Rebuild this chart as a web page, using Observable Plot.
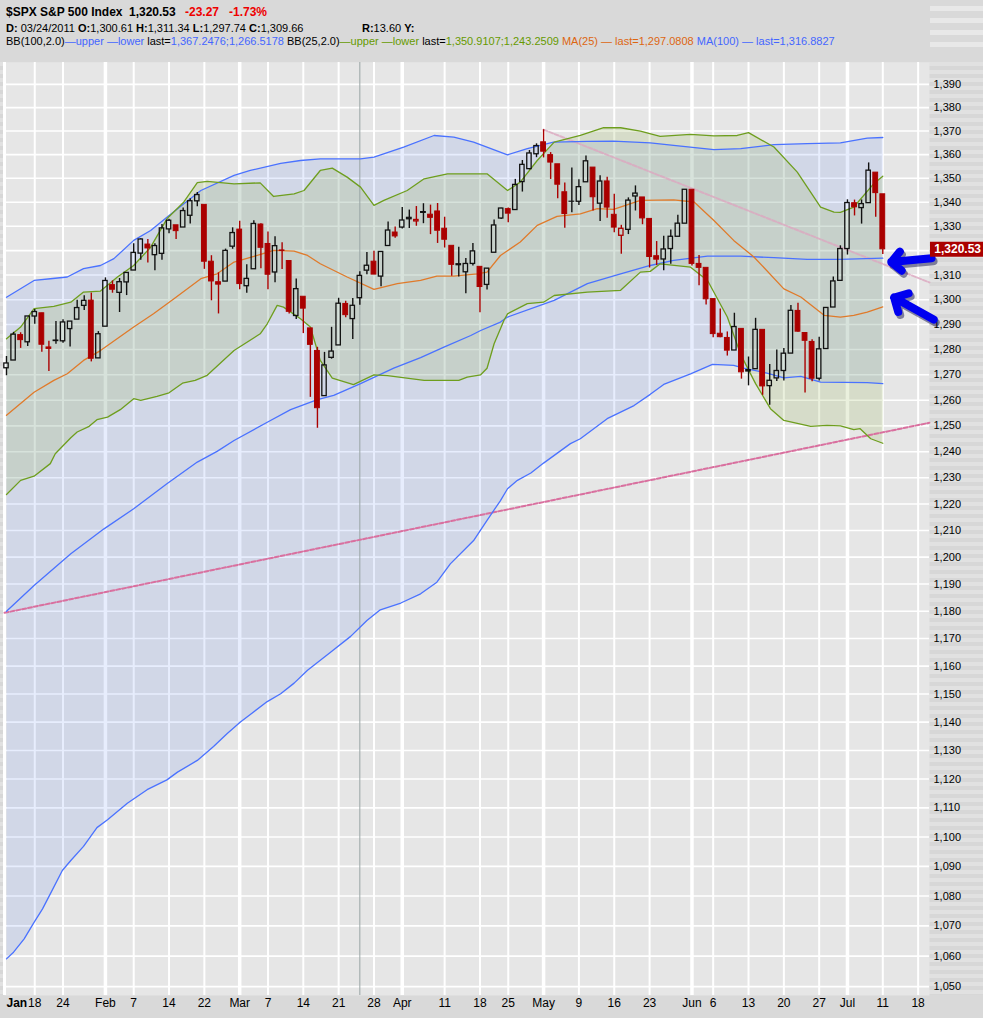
<!DOCTYPE html>
<html><head><meta charset="utf-8">
<script src="https://cdn.jsdelivr.net/npm/d3@7"></script>
<script src="https://cdn.jsdelivr.net/npm/@observablehq/plot@0.6"></script>
<style>
html,body{margin:0;padding:0;background:#d9d9d9;}
#wrap{position:relative;width:983px;height:1018px;overflow:hidden;background:#d9d9d9;font-family:"Liberation Sans",Arial,sans-serif;}
.t{position:absolute;font-size:12px;line-height:14px;white-space:nowrap;color:#000;}
.s{font-size:11px;}
#stripes{position:absolute;left:0;top:62px;width:983px;height:933px;background:repeating-linear-gradient(to bottom,#e1e1e1 0,#e1e1e1 4px,#d7d7d7 4px,#d7d7d7 8px);}
.bar{position:absolute;left:930px;width:53px;height:5px;background:#e8e8e8;}
#chart{position:absolute;left:0;top:52px;}
.blue{color:#4466ff}.green{color:#669900}.orange{color:#dd6611}.red{color:#ee0000}
</style></head>
<body><div id="wrap">
<div class="bar" style="top:6px"></div><div class="bar" style="top:18px"></div><div class="bar" style="top:30px"></div><div class="bar" style="top:42px"></div>
<div class="t" style="left:6px;top:5px"><b>$SPX S&amp;P 500 Index</b></div>
<div class="t" style="left:129px;top:5px"><b>1,320.53</b></div>
<div class="t red" style="left:185px;top:5px"><b>-23.27</b></div>
<div class="t red" style="left:229px;top:5px"><b>-1.73%</b></div>
<div class="t s" style="left:6px;top:21px"><b>D:</b> 03/24/2011 <b>O:</b>1,300.61 <b>H:</b>1,311.34 <b>L:</b>1,297.74 <b>C:</b>1,309.66</div>
<div class="t s" style="left:362px;top:21px"><b>R:</b>13.60 <b>Y:</b></div>
<div class="t s" style="left:6px;top:34px">BB(100,2.0)<span class="blue">—upper —lower</span> last=<span class="blue">1,367.2476;1,266.5178</span> BB(25,2.0)<span class="green">—upper —lower</span> last=<span class="green">1,350.9107;1,243.2509</span> <span class="orange">MA(25) — last=1,297.0808</span> <span class="blue">MA(100) — last=1,316.8827</span></div>
<div id="stripes"></div>
<div id="chart"></div>
</div>
<script>
// trading days from 2011-01-11 (day 0) to 2011-07-11 (day 124)
const dates = ["2011-01-11","2011-01-12","2011-01-13","2011-01-14","2011-01-18","2011-01-19","2011-01-20","2011-01-21","2011-01-24","2011-01-25","2011-01-26","2011-01-27","2011-01-28","2011-01-31",
"2011-02-01","2011-02-02","2011-02-03","2011-02-04","2011-02-07","2011-02-08","2011-02-09","2011-02-10","2011-02-11","2011-02-14","2011-02-15","2011-02-16","2011-02-17","2011-02-18","2011-02-22","2011-02-23","2011-02-24","2011-02-25","2011-02-28",
"2011-03-01","2011-03-02","2011-03-03","2011-03-04","2011-03-07","2011-03-08","2011-03-09","2011-03-10","2011-03-11","2011-03-14","2011-03-15","2011-03-16","2011-03-17","2011-03-18","2011-03-21","2011-03-22","2011-03-23","2011-03-24","2011-03-25","2011-03-28","2011-03-29","2011-03-30","2011-03-31",
"2011-04-01","2011-04-04","2011-04-05","2011-04-06","2011-04-07","2011-04-08","2011-04-11","2011-04-12","2011-04-13","2011-04-14","2011-04-15","2011-04-18","2011-04-19","2011-04-20","2011-04-21","2011-04-25","2011-04-26","2011-04-27","2011-04-28","2011-04-29",
"2011-05-02","2011-05-03","2011-05-04","2011-05-05","2011-05-06","2011-05-09","2011-05-10","2011-05-11","2011-05-12","2011-05-13","2011-05-16","2011-05-17","2011-05-18","2011-05-19","2011-05-20","2011-05-23","2011-05-24","2011-05-25","2011-05-26","2011-05-27","2011-05-31",
"2011-06-01","2011-06-02","2011-06-03","2011-06-06","2011-06-07","2011-06-08","2011-06-09","2011-06-10","2011-06-13","2011-06-14","2011-06-15","2011-06-16","2011-06-17","2011-06-20","2011-06-21","2011-06-22","2011-06-23","2011-06-24","2011-06-27","2011-06-28","2011-06-29","2011-06-30",
"2011-07-01","2011-07-05","2011-07-06","2011-07-07","2011-07-08","2011-07-11"];

const open = [1272.58,1275.65,1285.78,1282.90,1293.22,1294.52,1280.85,1283.63,1283.29,1288.17,1291.97,1297.51,1299.63,1276.50,
1289.14,1305.91,1302.77,1307.01,1311.85,1318.76,1322.48,1318.13,1318.66,1328.73,1330.43,1329.51,1334.37,1340.38,1338.91,1315.44,1307.09,1307.34,1321.61,
1328.64,1305.47,1312.37,1330.73,1322.72,1311.05,1319.92,1315.72,1293.43,1301.19,1288.46,1279.46,1261.61,1276.71,1281.65,1298.29,1292.19,1300.61,1311.80,1315.45,1309.37,1321.89,1327.44,
1329.48,1333.56,1332.03,1335.94,1334.82,1336.16,1329.01,1321.96,1314.03,1311.13,1314.54,1313.35,1305.99,1319.12,1333.23,1337.14,1336.75,1348.43,1353.86,1360.14,
1365.21,1359.76,1355.90,1344.16,1340.24,1340.20,1348.34,1354.51,1339.39,1348.69,1334.77,1326.10,1328.54,1342.40,1342.00,1333.07,1317.70,1316.36,1320.64,1325.69,1331.10,
1345.20,1314.55,1312.94,1300.26,1286.31,1284.63,1279.63,1288.26,1271.31,1272.22,1287.87,1265.53,1268.58,1271.50,1278.40,1295.48,1286.60,1283.04,1268.44,1280.21,1296.85,1307.64,
1320.64,1339.59,1337.56,1339.62,1352.39,1343.31];
const high = [1277.25,1286.87,1286.70,1293.24,1296.06,1294.60,1283.35,1291.21,1291.93,1291.26,1299.74,1301.63,1302.67,1287.17,
1308.86,1307.61,1308.60,1311.00,1322.85,1324.87,1324.54,1322.78,1330.79,1332.96,1330.43,1337.61,1341.50,1344.07,1338.91,1317.91,1310.91,1320.61,1329.38,
1332.09,1314.19,1332.28,1331.08,1327.68,1325.74,1323.21,1315.72,1308.35,1301.19,1288.46,1280.91,1278.88,1288.88,1300.58,1299.35,1300.51,1311.34,1319.18,1319.74,1319.45,1331.74,1329.77,
1337.85,1336.74,1338.21,1339.38,1338.80,1339.46,1333.77,1321.96,1321.35,1316.79,1322.88,1313.35,1312.70,1332.66,1337.49,1337.55,1349.55,1357.49,1361.71,1364.56,
1370.58,1360.84,1355.90,1348.00,1354.36,1349.44,1359.44,1354.51,1351.05,1350.47,1343.33,1330.42,1341.82,1346.82,1342.00,1333.07,1323.72,1325.86,1328.51,1334.62,1345.20,
1345.20,1318.03,1312.94,1300.26,1296.22,1287.04,1294.54,1288.26,1277.04,1292.50,1287.87,1274.11,1279.82,1280.42,1297.62,1298.61,1286.60,1283.93,1284.91,1296.80,1309.21,1321.97,
1341.01,1340.89,1340.94,1356.48,1352.39,1343.31];
const low = [1269.62,1275.65,1280.47,1281.24,1290.16,1278.92,1271.26,1282.07,1282.47,1281.07,1291.97,1295.69,1275.10,1276.50,
1289.14,1302.62,1294.83,1301.67,1311.85,1316.03,1314.89,1311.74,1316.08,1326.90,1324.61,1329.51,1331.00,1338.12,1312.33,1299.55,1294.26,1307.34,1320.55,
1303.99,1302.58,1312.37,1312.59,1303.99,1306.86,1312.27,1294.21,1291.99,1286.37,1261.12,1249.05,1261.61,1276.18,1281.65,1292.70,1284.05,1297.74,1310.15,1310.19,1305.26,1321.89,1325.03,
1328.89,1329.10,1330.03,1331.09,1326.56,1322.94,1321.06,1309.51,1309.19,1302.42,1313.68,1294.70,1303.97,1319.12,1332.83,1331.47,1336.75,1344.25,1353.60,1358.69,
1358.59,1349.52,1341.50,1329.17,1335.58,1338.64,1348.34,1336.36,1332.03,1333.36,1327.32,1318.51,1326.59,1336.36,1330.67,1312.88,1313.87,1311.80,1314.41,1325.69,1331.10,
1313.71,1305.61,1297.90,1284.72,1284.74,1277.42,1279.63,1268.28,1265.64,1272.22,1261.90,1258.07,1267.40,1267.56,1278.40,1286.79,1262.87,1267.24,1267.53,1280.21,1296.85,1307.64,
1318.18,1334.30,1330.92,1339.62,1333.71,1318.40];
const close = [1274.48,1285.96,1283.76,1293.24,1295.02,1281.92,1280.26,1283.35,1290.84,1291.18,1296.63,1299.54,1276.34,1286.12,
1307.59,1304.03,1307.10,1310.87,1319.05,1324.57,1320.88,1321.87,1329.15,1332.32,1328.01,1336.32,1340.43,1343.01,1315.44,1307.40,1306.10,1319.88,1327.22,
1306.33,1308.44,1330.97,1321.15,1310.13,1321.82,1320.02,1295.11,1304.28,1296.39,1281.87,1256.88,1273.72,1279.21,1298.38,1293.77,1297.54,1309.66,1313.80,1310.19,1319.44,1328.26,1325.83,
1332.41,1332.87,1332.63,1335.54,1333.51,1328.17,1324.46,1314.16,1314.41,1314.52,1319.68,1305.14,1312.62,1330.36,1337.38,1335.25,1347.24,1355.66,1360.48,1363.61,
1361.22,1356.62,1347.32,1335.10,1340.20,1346.29,1357.16,1342.08,1348.65,1337.77,1329.47,1328.98,1340.68,1343.60,1333.27,1317.37,1316.28,1320.47,1325.69,1331.10,1345.20,
1314.55,1312.94,1300.16,1286.17,1284.94,1279.56,1289.00,1270.98,1271.83,1287.87,1265.42,1267.64,1271.50,1278.36,1295.52,1287.14,1283.50,1268.45,1280.10,1296.67,1307.41,1320.64,
1339.67,1337.88,1339.22,1353.22,1343.80,1320.53];
const prevCloseFirst = 1269.75;

// indicator readings: [trading day, value]
const bb100Upper = [[0,1301.0],[3.9,1307.8],[6.2,1308.5],[8.6,1309.2],[10.9,1312.6],[13.3,1313.9],[15.2,1316.7],[18.0,1324.2],[20.4,1328.3],[22.7,1333.8],[25.1,1339.4],[27.5,1344.9],[32.2,1351.2],[34.5,1353.3],[38.8,1356.3],[41.6,1357.5],[44.4,1358.2],[50.1,1358.2],[52.0,1358.9],[56.2,1363.2],[60.5,1368.1],[63.3,1367.4],[66.1,1365.3],[70.9,1359.9],[73.7,1362.5],[77.4,1365.3],[82.2,1365.6],[85.9,1365.7],[91.1,1365.0],[94.4,1363.9],[100.1,1362.1],[103.9,1362.5],[108.6,1364.2],[113.3,1364.6],[118.0,1365.0],[121.8,1367.0],[124,1367.25]];
const bb100Lower = [[0,1059.1],[1.0,1061.3],[2.5,1065.7],[3.9,1071.2],[5.1,1075.7],[6.2,1080.7],[7.9,1088.6],[9.1,1092.0],[10.9,1096.8],[12.8,1103.2],[14.3,1105.9],[17.1,1111.6],[19.9,1116.3],[22.7,1119.7],[24.2,1122.4],[27.0,1126.5],[29.3,1131.4],[31.2,1135.9],[33.1,1140.0],[34.5,1142.7],[36.9,1147.3],[38.8,1150.1],[40.7,1153.9],[42.6,1158.5],[45.9,1165.1],[48.7,1170.8],[51.0,1176.6],[52.9,1180.5],[55.8,1183.0],[58.6,1186.4],[60.9,1190.7],[62.8,1197.5],[66.1,1206.2],[68.0,1213.8],[69.9,1221.3],[70.9,1225.8],[72.3,1229.0],[74.2,1231.8],[76.0,1235.6],[79.8,1243.1],[81.2,1245.0],[85.0,1252.8],[88.8,1257.9],[91.1,1262.3],[93.0,1266.2],[96.8,1270.4],[99.9,1274.1],[102.9,1273.7],[104.3,1272.6],[107.6,1270.7],[110.0,1268.8],[112.4,1269.4],[115.2,1267.1],[121.8,1266.9],[124,1266.52]];
const ma100 = [[0,1180.0],[3.9,1189.5],[9.1,1201.3],[13.8,1210.6],[18.0,1218.2],[22.7,1227.7],[27.0,1236.0],[29.8,1240.1],[32.2,1244.3],[36.9,1251.4],[40.2,1256.3],[44.0,1260.2],[46.3,1261.9],[50.1,1266.5],[54.8,1272.6],[58.6,1276.8],[61.9,1281.0],[65.7,1285.6],[67.1,1287.6],[69.9,1291.0],[70.9,1293.0],[77.5,1299.7],[82.2,1306.5],[86.9,1310.5],[91.1,1313.9],[94.4,1316.0],[99.2,1317.7],[103.9,1317.7],[108.6,1317.1],[113.3,1316.4],[118.0,1316.4],[124,1316.88]];
const bb25Upper = [[0,1284.3],[2.0,1289.0],[3.9,1296.4],[6.7,1297.3],[9.1,1299.0],[10.9,1303.1],[13.3,1303.5],[15.7,1309.2],[18.0,1313.9],[20.4,1321.4],[22.7,1333.1],[25.1,1340.1],[27.0,1348.2],[28.4,1348.7],[32.2,1347.7],[35.9,1348.1],[37.8,1342.4],[40.7,1343.5],[42.1,1344.9],[44.4,1353.3],[46.1,1354.3],[48.2,1350.5],[50.1,1346.3],[52.0,1338.7],[53.4,1340.8],[56.7,1344.9],[59.1,1349.8],[62.4,1351.9],[68.0,1351.9],[70.9,1344.9],[72.7,1348.4],[75.1,1357.5],[77.5,1365.3],[81.2,1368.1],[84.5,1371.4],[86.9,1371.4],[89.7,1370.0],[92.5,1367.7],[96.8,1368.6],[100.1,1367.9],[103.4,1368.1],[105.0,1369.3],[108.6,1363.2],[111.9,1352.6],[115.2,1338.0],[117.1,1335.9],[118.0,1335.8],[119.9,1338.0],[122.7,1347.7],[124,1350.91]];
const bb25Lower = [[0,1223.6],[2.0,1229.0],[3.9,1230.6],[6.2,1235.4],[6.9,1239.2],[9.1,1245.4],[10.0,1247.6],[11.7,1249.8],[12.8,1252.4],[14.3,1253.4],[16.1,1256.3],[18.0,1260.6],[19.0,1259.9],[21.3,1261.5],[23.0,1262.9],[24.9,1266.7],[26.7,1267.8],[28.4,1269.8],[32.2,1279.6],[35.9,1286.3],[36.9,1290.3],[38.3,1297.7],[39.2,1297.0],[41.6,1292.3],[43.0,1289.0],[44.4,1275.7],[46.1,1268.7],[49.1,1266.1],[52.0,1270.0],[53.9,1269.7],[59.1,1267.8],[64.0,1267.8],[65.2,1269.1],[67.1,1270.0],[68.0,1272.6],[69.0,1282.3],[70.4,1291.7],[70.9,1294.3],[73.7,1298.4],[76.0,1299.0],[77.5,1301.7],[82.2,1303.1],[86.9,1303.8],[89.7,1311.2],[91.1,1311.5],[92.5,1314.6],[96.8,1313.2],[99.2,1307.8],[102.0,1293.0],[103.9,1278.0],[106.0,1266.5],[108.1,1256.7],[110.0,1252.1],[111.9,1251.0],[113.8,1249.8],[116.1,1250.2],[118.0,1250.0],[119.9,1248.5],[120.8,1248.9],[122.3,1245.0],[124,1243.25]];
const ma25 = [[0,1254.1],[3.9,1263.1],[6.7,1267.8],[8.6,1270.4],[10.9,1275.7],[13.3,1279.6],[18.0,1289.0],[20.8,1294.3],[23.7,1300.4],[27.5,1308.5],[29.8,1310.5],[32.2,1315.3],[35.0,1317.6],[37.8,1320.1],[40.7,1319.8],[42.6,1318.0],[44.4,1314.6],[48.2,1309.2],[52.0,1304.2],[55.3,1306.5],[58.6,1307.8],[60.9,1309.6],[63.3,1309.6],[66.6,1310.5],[68.0,1311.2],[69.9,1318.0],[72.7,1323.5],[75.1,1330.4],[77.9,1334.1],[81.2,1335.2],[83.6,1337.3],[85.9,1337.0],[89.7,1340.8],[94.4,1341.0],[97.3,1340.1],[100.1,1332.4],[102.9,1324.2],[105.8,1317.3],[110.0,1304.4],[112.4,1301.1],[115.7,1293.7],[118.0,1293.0],[119.9,1293.7],[121.8,1295.0],[124,1297.08]];

// trend lines (drawn annotations): [trading day, price]
const trendUp = [[-0.28,1179.4],[130.6,1251.2]];
const trendDown = [[76,1370.58],[130.6,1307.0]];
// arrows: tail -> head, [day, price]
const arrows = [
  {d1:130.9, p1:1316.9, d2:125.2, p2:1315.3},
  {d1:131.2, p1:1292.0, d2:125.6, p2:1300.9}
];
const lastPrice = 1320.53;
const cursorDate = "2011-03-24";

// axis ticks (gridlines at every value; the 1,320 label is hidden under the last-price box)
const yTicks = [1050,1060,1070,1080,1090,1100,1110,1120,1130,1140,1150,1160,1170,1180,1190,1200,1210,1220,1230,1240,1250,1260,1270,1280,1290,1300,1310,1320,1330,1340,1350,1360,1370,1380,1390];
const yTickHidden = [1320];
const xTickDays   = [4,8,14,18,23,28,33,37,42,47,52,56,62,67,71,76,81,86,91,97,100,105,110,115,119,124,129];
const xTickLabels = ["18","24","Feb","7","14","22","Mar","7","14","21","28","Apr","11","18","25","May","9","16","23","Jun","6","13","20","27","Jul","11","18"];
const monthNames = ["Jan","Feb","Mar","Apr","May","Jun","Jul"];

const RED = "#aa0000", BLACK = "#111111";
const BLUE = "#4a72ff", GREEN = "#6e9e1e", ORANGE = "#e07a2a";

const xDomain = [-0.283, 130.61];
const candles = dates.map((d, i) => {
  const pc = i ? close[i-1] : prevCloseFirst;
  return {i, o: open[i], h: high[i], l: low[i], c: close[i], col: close[i] < pc ? RED : BLACK, hollow: close[i] > open[i]};
});
const ticks = xTickDays.map((d, k) => ({d, label: xTickLabels[k], month: monthNames.includes(xTickLabels[k])}));
const pt = a => a.map(([d, v]) => ({d, v}));
const poly = (u, l) => pt(u).concat(pt(l).reverse());
const cursorDay = dates.indexOf(cursorDate);

const plot = Plot.plot({
  width: 983, height: 966,
  marginLeft: 4, marginRight: 54, marginTop: 10, marginBottom: 23,
  x: {domain: xDomain, axis: null},
  y: {type: "log", domain: [1047.1, 1399.5], axis: null},
  style: {background: "transparent", fontFamily: "'Liberation Sans', Arial, sans-serif", fontSize: "11px", color: "#000"},
  marks: [
    Plot.frame({fill: "#e6e6e6"}),
    Plot.ruleY(yTicks, {stroke: "#ffffff", strokeWidth: 1.6}),
    Plot.ruleX(ticks.filter(t => !t.month), {x: "d", stroke: "#ffffff", strokeWidth: 2}),
    Plot.ruleX(ticks.filter(t => t.month), {x: "d", stroke: "#ffffff", strokeWidth: 3.5}),
    Plot.ruleX([xDomain[0]], {stroke: "#ffffff", strokeWidth: 3}),
    Plot.line(poly(bb100Upper, bb100Lower), {x: "d", y: "v", fill: "rgb(97,137,243)", fillOpacity: 0.15, stroke: "none"}),
    Plot.line(poly(bb25Upper, bb25Lower), {x: "d", y: "v", fill: "rgb(160,185,100)", fillOpacity: 0.22, stroke: "none"}),
    Plot.ruleX([cursorDay], {stroke: "#98a5a5", strokeWidth: 1}),
    Plot.line(pt(trendUp), {x: "d", y: "v", stroke: "#d9709f", strokeWidth: 2, strokeDasharray: "4,2"}),
    Plot.line(pt(trendDown), {x: "d", y: "v", stroke: "#dca6bf", strokeWidth: 2, strokeDasharray: "4,2", strokeOpacity: 0.8}),
    Plot.line(pt(bb100Upper), {x: "d", y: "v", stroke: BLUE, strokeWidth: 1.3}),
    Plot.line(pt(bb100Lower), {x: "d", y: "v", stroke: BLUE, strokeWidth: 1.3}),
    Plot.line(pt(ma100), {x: "d", y: "v", stroke: BLUE, strokeWidth: 1.3}),
    Plot.line(pt(bb25Upper), {x: "d", y: "v", stroke: GREEN, strokeWidth: 1.3}),
    Plot.line(pt(bb25Lower), {x: "d", y: "v", stroke: GREEN, strokeWidth: 1.3}),
    Plot.line(pt(ma25), {x: "d", y: "v", stroke: ORANGE, strokeWidth: 1.3}),
    // candle wicks (outside bodies)
    Plot.ruleX(candles, {x: "i", y1: d => Math.max(d.o, d.c), y2: "h", stroke: "col", strokeWidth: 1.4}),
    Plot.ruleX(candles, {x: "i", y1: "l", y2: d => Math.min(d.o, d.c), stroke: "col", strokeWidth: 1.4}),
    // bodies
    Plot.rect(candles.filter(d => !d.hollow), {x1: d => d.i - 0.34, x2: d => d.i + 0.34, y1: "o", y2: "c", fill: "col", stroke: "col", strokeWidth: 1}),
    Plot.rect(candles.filter(d => d.hollow), {x1: d => d.i - 0.31, x2: d => d.i + 0.31, y1: "o", y2: "c", fill: "none", stroke: "col", strokeWidth: 1.3}),
    // y axis on the right
    Plot.axisY(yTicks.filter(v => !yTickHidden.includes(v)), {anchor: "right", tickSize: 0, tickPadding: 4, tickFormat: d3.format(","), label: null, fontSize: 11, fill: "#000"}),
    // x labels
    Plot.text(ticks, {x: "d", text: "label", frameAnchor: "bottom", dy: 11, fontSize: 12, fontWeight: d => d.month ? "bold" : "normal", fontFamily: "'Liberation Sans Narrow', 'Liberation Sans', sans-serif", fill: "#000"}),
    Plot.text(["Jan"], {x: xDomain[0], text: d => d, frameAnchor: "bottom", dy: 11, dx: 2, textAnchor: "start", fontSize: 12, fontWeight: "bold", fontFamily: "'Liberation Sans Narrow', 'Liberation Sans', sans-serif", fill: "#000"}),
    // annotation arrows
    Plot.arrow(arrows, {x1: "d1", y1: "p1", x2: "d2", y2: "p2", stroke: "#000040", strokeOpacity: 0.45, strokeWidth: 8, headLength: 5, headAngle: 90, dx: 2, dy: 3}),
    Plot.arrow(arrows, {x1: "d1", y1: "p1", x2: "d2", y2: "p2", stroke: "#0000f0", strokeWidth: 8, headLength: 5, headAngle: 90}),
    // last price label
    Plot.ruleY([lastPrice], {x1: 130.75, x2: 139, stroke: "#aa0000", strokeWidth: 15}),
    Plot.text([lastPrice], {x: 134.6, y: d => d, text: d => d3.format(",.2f")(d), fill: "#ffffff", fontWeight: "bold", fontSize: 12})
  ]
});
document.getElementById("chart").appendChild(plot);
</script>
</body></html>
